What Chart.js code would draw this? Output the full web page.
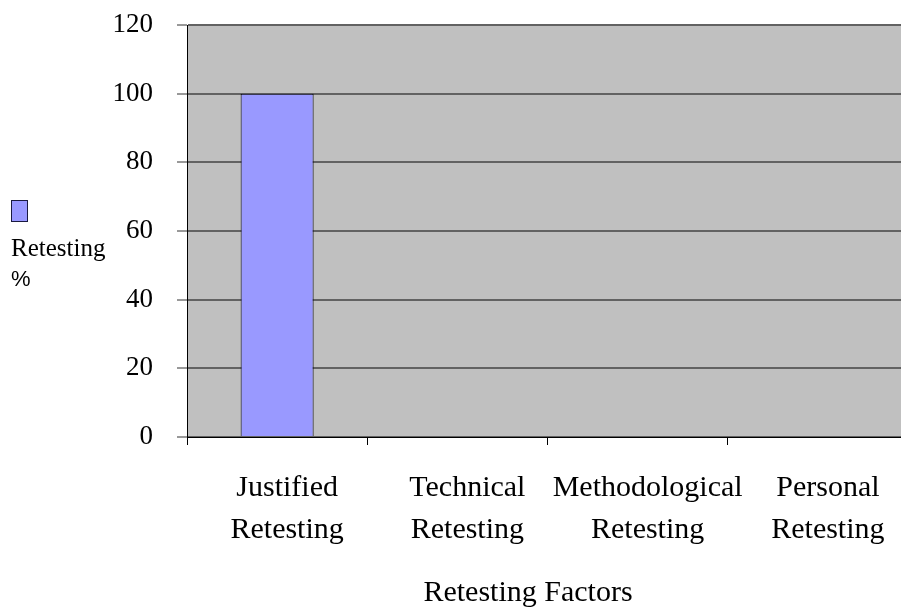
<!DOCTYPE html>
<html>
<head>
<meta charset="utf-8">
<script src="https://cdn.jsdelivr.net/npm/chart.js@4/dist/chart.umd.min.js"></script>
<style>
  html, body { margin: 0; padding: 0; background: #fff; overflow: hidden; width: 901px; height: 613px; }
  #wrap { position: relative; width: 909px; height: 613px; }
</style>
</head>
<body>
<div id="wrap">
  <canvas id="c" width="909" height="613"></canvas>
</div>
<script>
// Retesting factors and share of retests for each (percent)
const categories = [
  ['Justified', 'Retesting'],
  ['Technical', 'Retesting'],
  ['Methodological', 'Retesting'],
  ['Personal', 'Retesting']
];
const retestingPct = [100, 0, 0, 0];
const yTicks = [0, 20, 40, 60, 80, 100, 120];
const seriesName = ['Retesting', '%'];
const axisTitle = 'Retesting Factors';

const barColor = '#9999ff';

// grey plotting area behind the bars
const plotBackground = {
  id: 'plotBackground',
  beforeDraw(chart) {
    const { ctx, chartArea: a } = chart;
    ctx.save();
    ctx.fillStyle = '#c0c0c0';
    ctx.fillRect(a.left, a.top, a.right - a.left, a.bottom - a.top);
    ctx.restore();
  }
};

// series key at the left edge and the category axis title under the labels
const sideKeyAndTitle = {
  id: 'sideKeyAndTitle',
  afterDraw(chart) {
    const { ctx } = chart;
    ctx.save();
    ctx.fillStyle = barColor;
    ctx.fillRect(11, 200, 17, 22);
    ctx.strokeStyle = '#1a1a40';
    ctx.lineWidth = 1;
    ctx.strokeRect(11.5, 200.5, 16, 21);

    ctx.fillStyle = '#000';
    ctx.textAlign = 'left';
    ctx.textBaseline = 'alphabetic';
    ctx.font = '25px "Liberation Serif"';
    ctx.fillText(seriesName[0], 11, 256);
    ctx.font = '22px "Liberation Sans"';
    ctx.fillText(seriesName[1], 11, 286);

    ctx.textAlign = 'center';
    ctx.textBaseline = 'middle';
    ctx.font = '30px "Liberation Serif"';
    ctx.fillText(axisTitle, 528, 593);
    ctx.restore();
  }
};

new Chart(document.getElementById('c'), {
  type: 'bar',
  data: {
    labels: categories,
    datasets: [{
      label: seriesName.join(' '),
      data: retestingPct,
      backgroundColor: barColor,
      borderColor: '#000',
      borderWidth: 1,
      categoryPercentage: 1,
      barPercentage: 0.405
    }]
  },
  options: {
    responsive: false,
    animation: false,
    layout: { padding: { top: 25, left: 0, right: 1, bottom: 0 } },
    plugins: { legend: { display: false }, tooltip: { enabled: false } },
    scales: {
      x: {
        afterFit(scale) { scale.height = 176; },
        grid: {
          offset: true,
          drawOnChartArea: false,
          drawTicks: true,
          tickLength: 8,
          tickColor: '#000',
          tickWidth: 1
        },
        border: { color: '#000', width: 1 },
        ticks: {
          color: '#000',
          font: { family: 'Liberation Serif', size: 30, lineHeight: 1.4 },
          padding: 22,
          labelOffset: 10,
          maxRotation: 0,
          autoSkip: false
        },
        title: { display: false }
      },
      y: {
        min: 0,
        max: 120,
        afterFit(scale) {
          scale.width = 187;
          scale.paddingTop = 0;
          scale.paddingBottom = 0;
        },
        afterBuildTicks(scale) { scale.ticks = yTicks.map(v => ({ value: v })); },
        grid: {
          color: '#626262',
          lineWidth: 2,
          drawTicks: true,
          tickLength: 10,
          tickColor: '#333',
          tickWidth: 1
        },
        border: { color: '#000', width: 1 },
        ticks: {
          color: '#000',
          font: { family: 'Liberation Serif', size: 27 },
          padding: 24
        }
      }
    }
  },
  plugins: [plotBackground, sideKeyAndTitle]
});
</script>
</body>
</html>
